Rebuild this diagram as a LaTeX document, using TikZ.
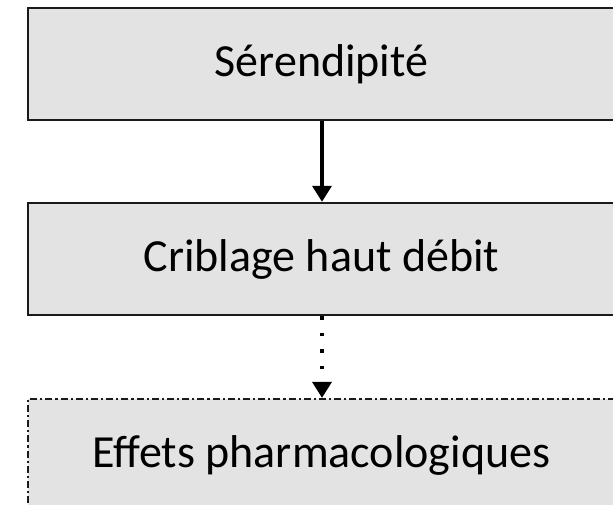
\documentclass[tikz,border=0pt]{standalone}
\usepackage{fontspec}
\setmainfont{Carlito}
\usetikzlibrary{arrows.meta}
\definecolor{boxfill}{HTML}{E3E3E3}
\definecolor{boxline}{HTML}{1A1A1A}
\tikzset{
  stagebox/.style={draw=boxline, fill=boxfill, line width=2.4pt, minimum width=587pt, minimum height=112pt, inner sep=0pt, font=\fontsize{46}{55}\selectfont},
  dashdotbox/.style={stagebox, line width=2.2pt, dash pattern=on 7pt off 3pt on 2.2pt off 3pt},
  flow/.style={line width=3.5pt, -{Triangle[length=16pt,width=19pt]}},
}
\begin{document}
\begin{tikzpicture}[x=1pt,y=1pt]
\useasboundingbox (0,0) rectangle (613,504);
\clip (0,0) rectangle (613,504);
\node[stagebox] (a) at (321.5,440) {Sérendipité};
\node[stagebox] (b) at (321.5,245) {Criblage haut débit};
\node[dashdotbox] (c) at (321.5,49) {Effets pharmacologiques};
\draw[flow] (a.south -| 322,0) -- (b.north -| 322,0);
\draw[flow, dash pattern=on 3.5pt off 13pt] (b.south -| 322,0) -- (c.north -| 322,0);
\end{tikzpicture}
\end{document}
